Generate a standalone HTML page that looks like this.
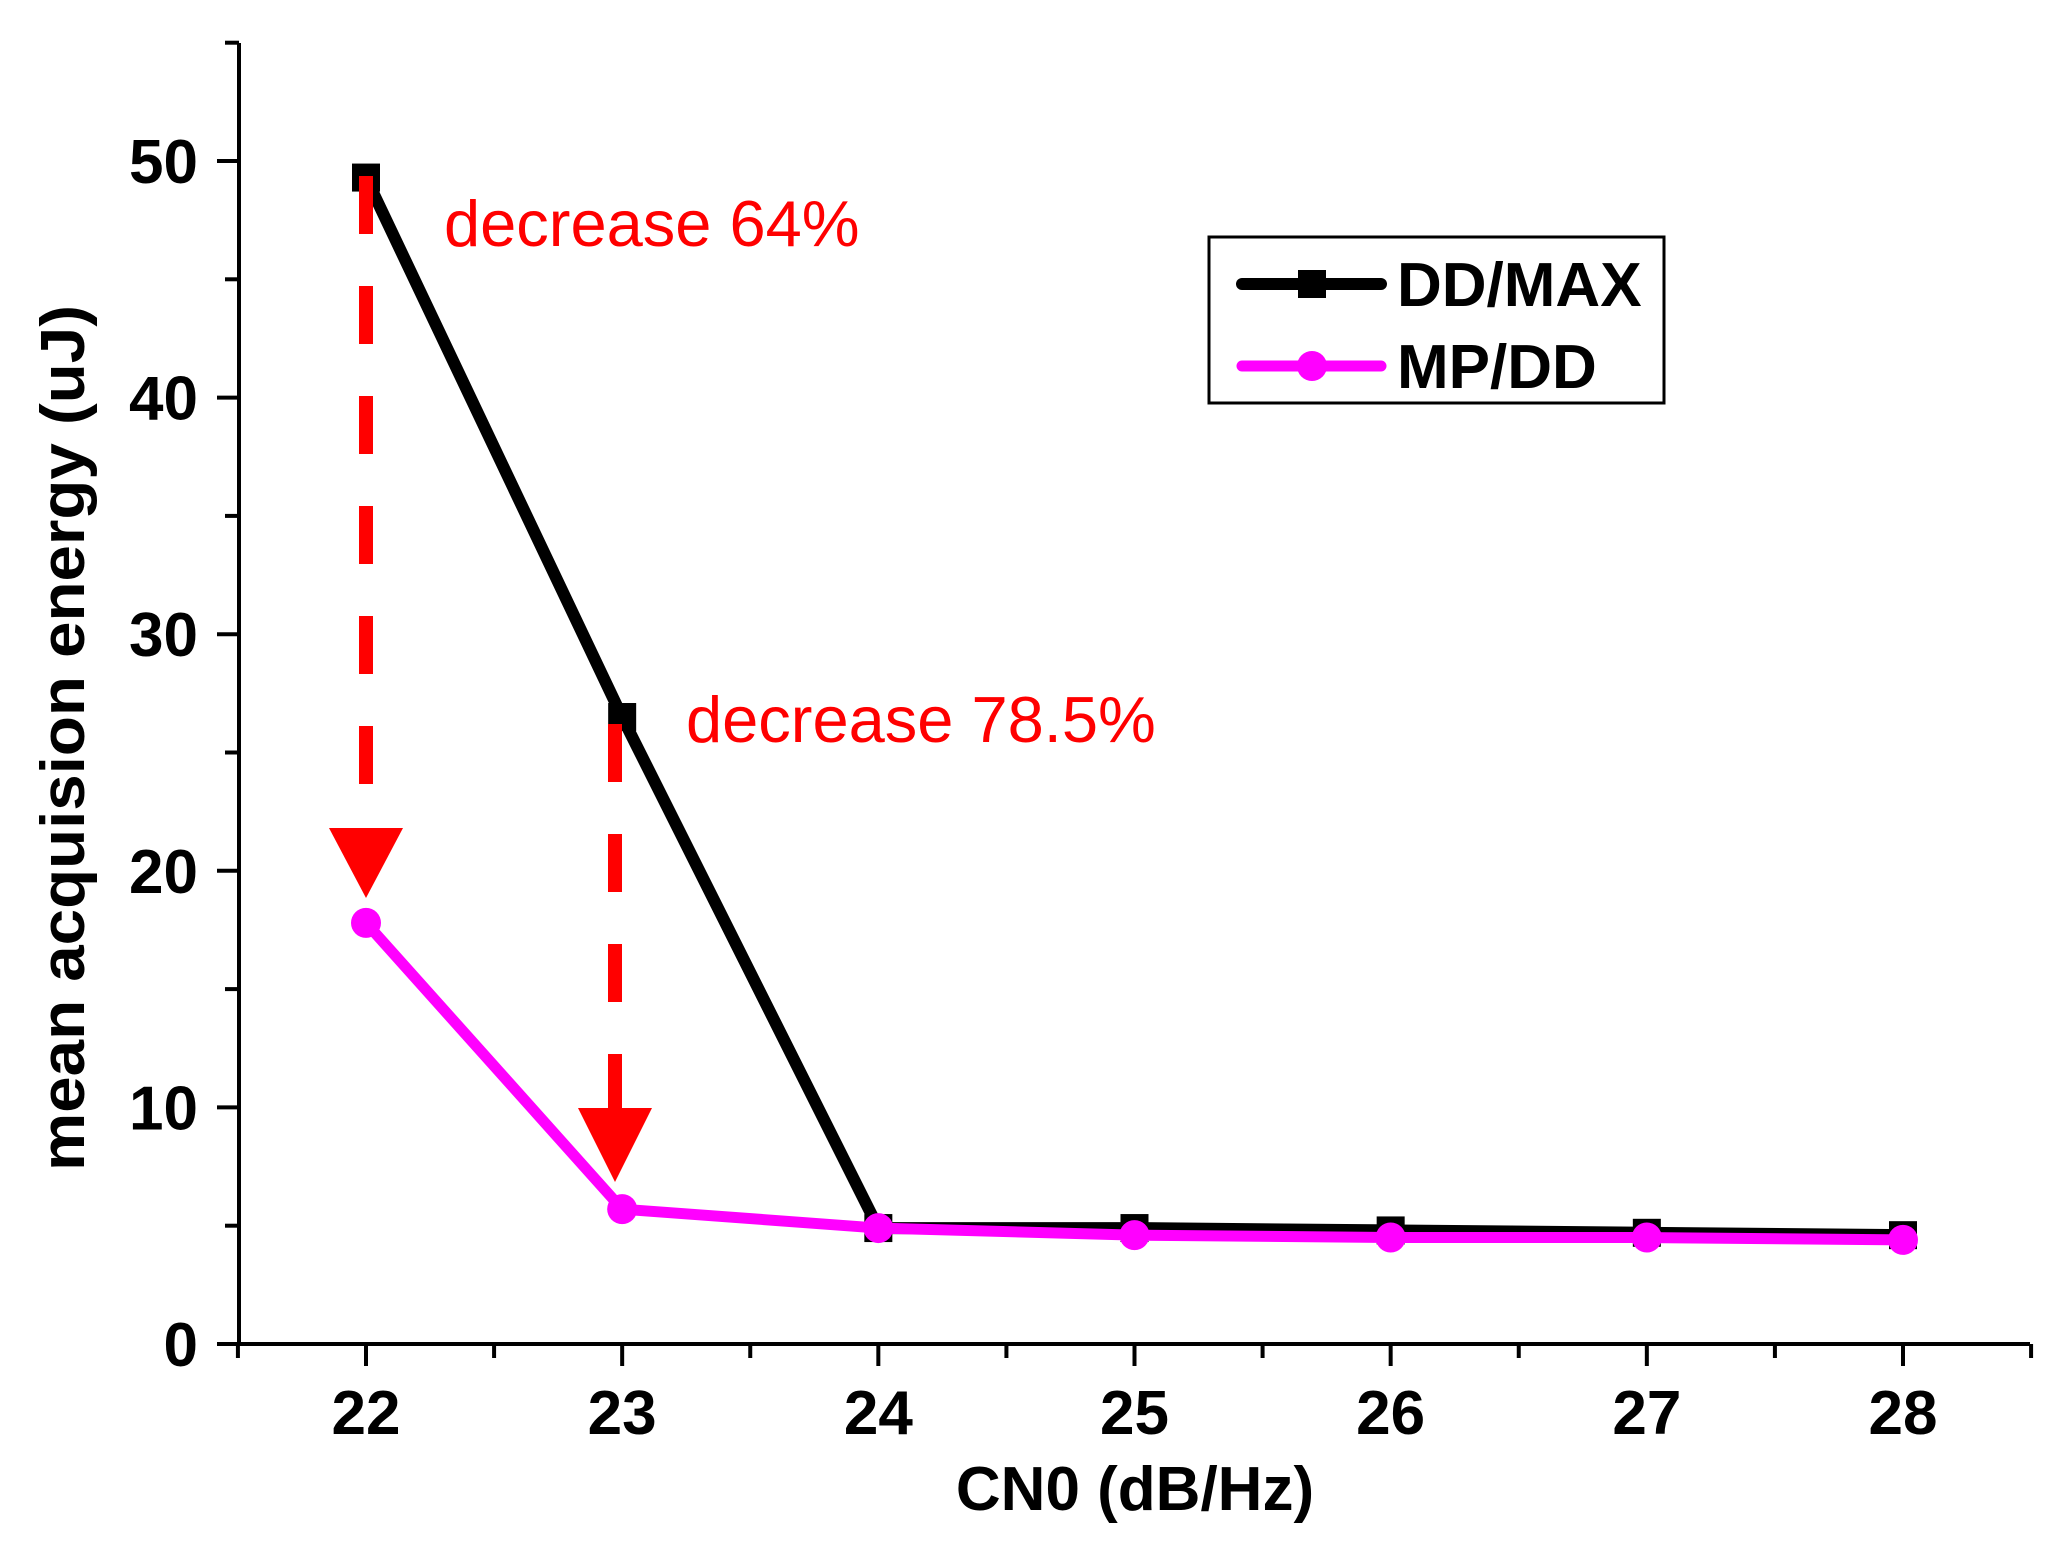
<!DOCTYPE html>
<html><head><meta charset="utf-8"><style>
html,body{margin:0;padding:0;background:#fff;}
svg{display:block;font-family:"Liberation Sans",Arial,sans-serif;}
</style></head><body>
<svg id="chart" width="2060" height="1545" viewBox="0 0 2060 1545">
<g id="axes"></g><g id="series"></g>
<g>
<line x1="366" y1="176" x2="366" y2="828" stroke="#ff0000" stroke-width="14" stroke-dasharray="58 52"/>
<polygon points="329,828 403,828 366,898" fill="#ff0000"/>
<line x1="615" y1="724" x2="615" y2="1108" stroke="#ff0000" stroke-width="14" stroke-dasharray="58 52"/>
<polygon points="578,1108 652,1108 615,1182" fill="#ff0000"/>
<text x="444" y="246" font-size="65" fill="#ff0000">decrease 64%</text>
<text x="686" y="742" font-size="65" fill="#ff0000">decrease 78.5%</text>
</g>
<g>
<rect x="1209" y="237" width="455" height="166" fill="#fff" stroke="#000" stroke-width="3"/>
<line x1="1242" y1="284" x2="1381" y2="284" stroke="#000" stroke-width="12" stroke-linecap="round"/>
<rect x="1298" y="270" width="28" height="28" fill="#000"/>
<text x="1397" y="306" font-size="62" font-weight="bold">DD/MAX</text>
<line x1="1242" y1="366" x2="1381" y2="366" stroke="#ff00ff" stroke-width="11" stroke-linecap="round"/>
<circle cx="1312" cy="366" r="15" fill="#ff00ff"/>
<text x="1397" y="388" font-size="62" font-weight="bold">MP/DD</text>
</g>
</svg>
<script>
const categories = [22, 23, 24, 25, 26, 27, 28];
const ddMax = [49.3, 26.5, 4.9, 4.9, 4.8, 4.7, 4.6];
const mpDd = [17.8, 5.7, 4.9, 4.6, 4.5, 4.5, 4.4];
const yTicks = [0, 10, 20, 30, 40, 50];
const xTicks = [22, 23, 24, 25, 26, 27, 28];

const NS = "http://www.w3.org/2000/svg";
const X0 = 239, XR = 2030, Y0 = 1344, YTOP = 43, Y50 = 161;
function xs(v){ return 366 + (v - 22) * (1903 - 366) / 6; }
function ys(v){ return Y0 - v * (Y0 - Y50) / 50; }
function mk(tag, attrs, parent){
  const e = document.createElementNS(NS, tag);
  for (const k in attrs) e.setAttribute(k, attrs[k]);
  parent.appendChild(e);
  return e;
}
const axes = document.getElementById('axes');
const series = document.getElementById('series');

let yl = mk('line', {x1:X0, y1:YTOP, x2:X0, y2:Y0, stroke:'#000', 'stroke-width':4}, axes);


let xl = mk('line', {x1:X0-2, y1:Y0, x2:XR, y2:Y0, stroke:'#000', 'stroke-width':4}, axes);



for (let v = 0; v <= 55; v += 5) {
  const major = v % 10 === 0;
  const t = mk('line', {x1: X0 - (major ? 22 : 14), y1: ys(v), x2: X0, y2: ys(v), stroke:'#000', 'stroke-width':4}, axes);
  
  
}
yTicks.forEach(v => {
  const t = mk('text', {x: 198, y: ys(v) + 22, 'font-size':62, 'font-weight':'bold', 'text-anchor':'end'}, axes);
  t.textContent = v;
  
  
});
for (let v = 21.5; v <= 28.5; v += 0.5) {
  const major = Number.isInteger(v);
  const t = mk('line', {x1: xs(v), y1: Y0, x2: xs(v), y2: Y0 + (major ? 22 : 14), stroke:'#000', 'stroke-width':4}, axes);
  
  
}
xTicks.forEach(v => {
  const t = mk('text', {x: xs(v), y: Y0 + 90, 'font-size':62, 'font-weight':'bold', 'text-anchor':'middle'}, axes);
  t.textContent = v;
  
  
});
const xt = mk('text', {x: 1135, y: 1510, 'font-size':62, 'font-weight':'bold', 'text-anchor':'middle'}, axes);
xt.textContent = 'CN0 (dB/Hz)';


const yt = mk('text', {x: 0, y: 0, 'font-size':62, 'font-weight':'bold', 'text-anchor':'middle', textLength: 866, lengthAdjust:'spacingAndGlyphs', transform:'translate(84,738) rotate(-90)'}, axes);
yt.textContent = 'mean acquision energy (uJ)';



const p1 = mk('polyline', {points: categories.map((c,i)=>xs(c)+','+ys(ddMax[i])).join(' '), fill:'none', stroke:'#000', 'stroke-width':12, 'stroke-linejoin':'round'}, series);


categories.forEach((c,i) => {
  const r = mk('rect', {x: xs(c)-14, y: ys(ddMax[i])-14, width:28, height:28, fill:'#000'}, series);
  
  
});
const p2 = mk('polyline', {points: categories.map((c,i)=>xs(c)+','+ys(mpDd[i])).join(' '), fill:'none', stroke:'#ff00ff', 'stroke-width':11, 'stroke-linejoin':'round'}, series);


categories.forEach((c,i) => {
  const r = mk('circle', {cx: xs(c), cy: ys(mpDd[i]), r:15, fill:'#ff00ff'}, series);
  
  
});
</script>
</body></html>
